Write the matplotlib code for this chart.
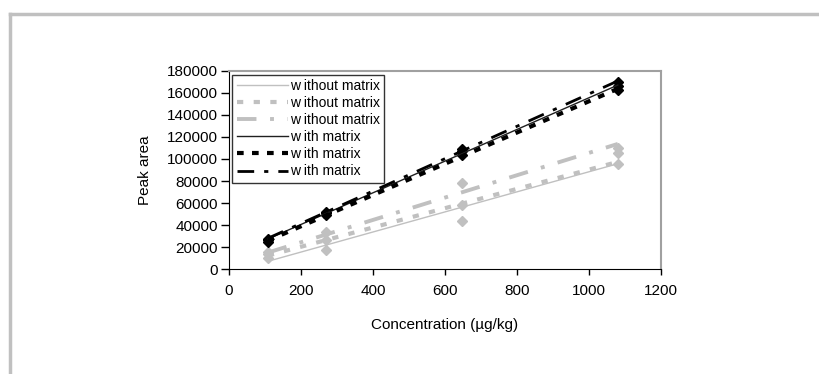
import numpy as np
import matplotlib.pyplot as plt
from matplotlib.lines import Line2D

plt.rcParams['font.family'] = ['Liberation Sans', 'DejaVu Sans']

# concentrations (ug/kg)
conc = [108, 270, 648, 1080]

# peak areas
wo1 = [10000, 17300, 58000, 95500]
wo2 = [13200, 33600, 43600, 105000]
wo3 = [15500, 26400, 78000, 110000]
w1 = [26000, 51000, 107000, 166000]
w2 = [25000, 49000, 104000, 163000]
w3 = [27000, 52000, 109000, 170000]

labels = ['w ithout matrix'] * 3 + ['w ith matrix'] * 3
series = [wo1, wo2, wo3, w1, w2, w3]

gray = '#c0c0c0'
styles = [
    dict(color=gray, lw=1.0, ls='-'),
    dict(color=gray, lw=3.0, ls=(0, (1.5, 2.5))),
    dict(color=gray, lw=2.8, ls=(0, (5, 3.5, 1, 3.5))),
    dict(color='#202020', lw=1.0, ls='-'),
    dict(color='black', lw=3.0, ls=(0, (1.6, 2.0))),
    dict(color='black', lw=2.0, ls=(0, (6, 3.6, 1.5, 3.6))),
]
mcolors = [gray, gray, gray, 'black', 'black', 'black']

fig = plt.figure(figsize=(8.19, 3.74), dpi=100)
ax = fig.add_axes([0.2796, 0.2807, 0.5275, 0.5295])

x = np.array(conc)
for ys, st, mc, lab in zip(series, styles, mcolors, labels):
    ax.plot(x, ys, ls='none', marker='D', ms=5, color=mc, zorder=2)
    # linear trendline
    k, b = np.polyfit(x, ys, 1)
    xx = np.array([x.min(), x.max()])
    ax.plot(xx, k * xx + b, label=lab, zorder=3, **st)

ax.set_xlim(0, 1200)
ax.set_ylim(0, 180000)
ax.set_xticks(range(0, 1201, 200))
ax.set_yticks(range(0, 180001, 20000))
ax.tick_params(direction='out', labelsize=11, width=1)
ax.tick_params(axis='x', length=4, pad=7)
ax.tick_params(axis='y', length=6, pad=2)
ax.spines['top'].set_color('#a0a0a0')
ax.spines['right'].set_color('#a0a0a0')
ax.spines['top'].set_linewidth(1.5)
ax.spines['right'].set_linewidth(1.5)
ax.set_xlabel('Concentration (µg/kg)', fontsize=11, labelpad=14)
ax.set_ylabel('Peak area', fontsize=11, labelpad=11)

leg = ax.legend(loc='upper left', bbox_to_anchor=(0.008, 0.98), fontsize=10,
                frameon=True, fancybox=False, edgecolor='black',
                handlelength=3.7, handletextpad=0.15, labelspacing=0.22,
                borderpad=0.3, borderaxespad=0)
leg.get_frame().set_linewidth(1.0)

# outer frame of the chart area (top and left edges visible)
fig.add_artist(Line2D([0.012, 1.0], [1 - 14 / 374, 1 - 14 / 374],
                      transform=fig.transFigure, color='#c0c0c0', lw=2.5))
fig.add_artist(Line2D([0.012, 0.012], [0.0, 1 - 14 / 374],
                      transform=fig.transFigure, color='#c0c0c0', lw=2.5))

fig.savefig('out.png', dpi=100)
